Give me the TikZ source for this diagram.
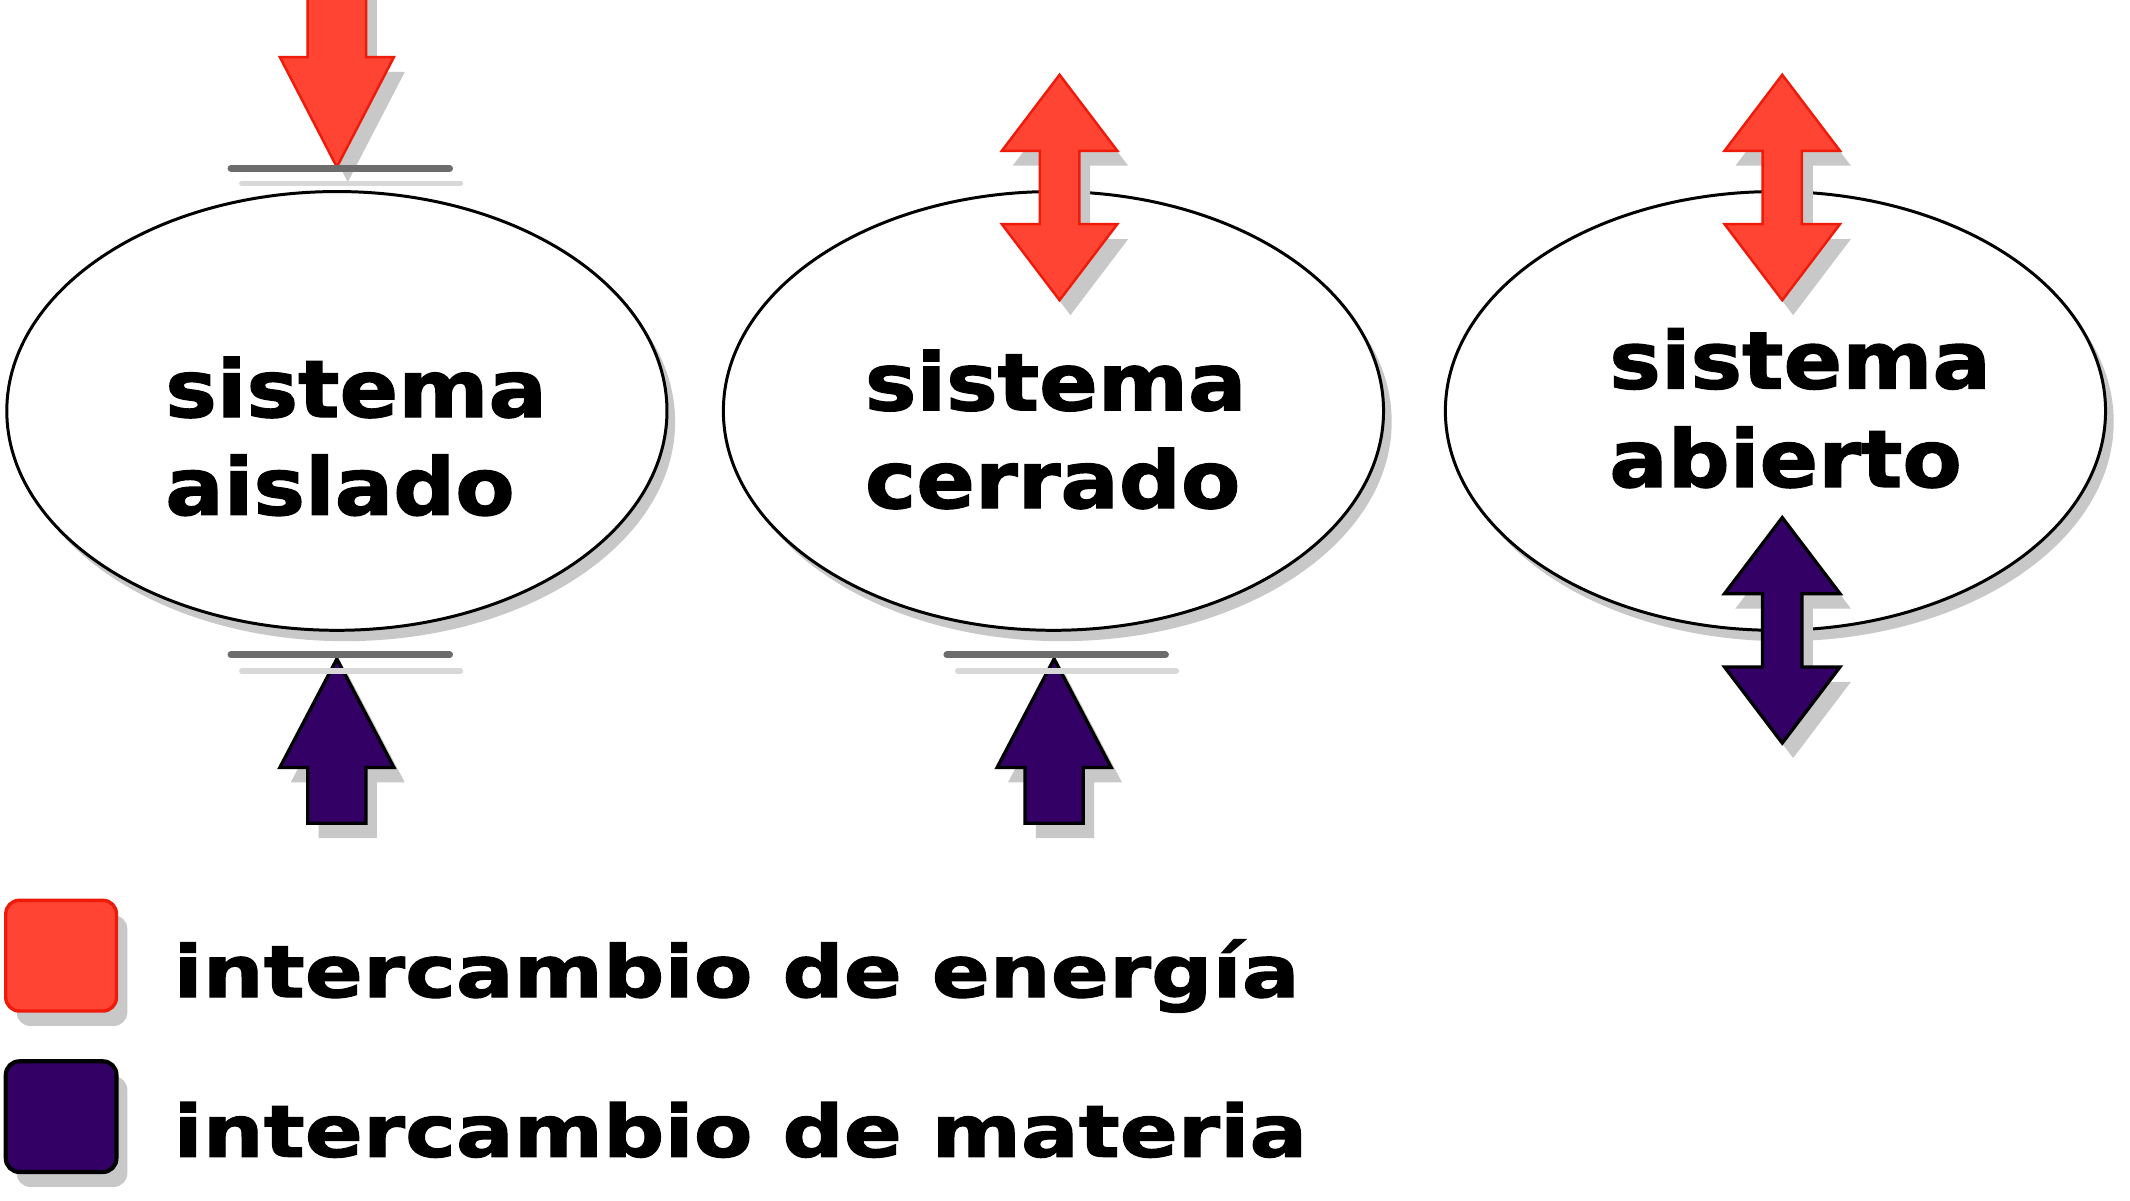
\documentclass[tikz,border=0pt]{standalone}
\usepackage{fontspec}
\usetikzlibrary{shapes.geometric,shadows}
\newfontfamily\sysfont{DejaVu Sans}[FakeStretch=1.09,FakeBold=1.6]
\newfontfamily\legfont{DejaVu Sans}[FakeStretch=1.19,FakeBold=1.6]
\definecolor{energy}{HTML}{FF4433}
\definecolor{energyline}{HTML}{EE1A0A}
\definecolor{matter}{HTML}{330066}
\definecolor{barrier}{HTML}{6C6C6C}
\definecolor{shadowgray}{HTML}{C8C8C8}
\definecolor{shadowlight}{HTML}{D8D8D8}
% arrow outlines, drawn from the tip
\newcommand{\downarrowpath}[1]{(#1) -- ++(-42,-81) -- ++(20.5,0) -- ++(0,-60) -- ++(43,0) -- ++(0,60) -- ++(20.5,0) -- cycle}
\newcommand{\uparrowpath}[1]{(#1) -- ++(-42,80) -- ++(20.5,0) -- ++(0,41) -- ++(43,0) -- ++(0,-41) -- ++(20.5,0) -- cycle}
\newcommand{\bothwayspath}[1]{(#1) -- ++(42.5,56) -- ++(-28,0) -- ++(0,54) -- ++(28,0) -- ++(-42.5,56) -- ++(-42.5,-56) -- ++(28,0) -- ++(0,-54) -- ++(-28,0) -- cycle}
\begin{document}
\begin{tikzpicture}[x=1pt,y=-1pt,
  dropsh/.style={drop shadow={shadow xshift=8pt,shadow yshift=-11pt,fill=shadowgray,draw=none,opacity=1}},
  sys/.style={ellipse,draw=black,line width=2.2pt,fill=white,minimum width=486pt,minimum height=323pt,inner sep=0pt,
    drop shadow={shadow xshift=6pt,shadow yshift=-8pt,fill=shadowgray,draw=none,opacity=1}},
  systext/.style={font=\sysfont\bfseries\fontsize{58.5}{72.5}\selectfont,inner sep=0pt,anchor=base west},
  legtext/.style={font=\legfont\bfseries\fontsize{53}{64}\selectfont,inner sep=0pt,anchor=base west},
  legbox/.style={rounded corners=10pt,minimum size=81.5pt,inner sep=0pt,dropsh},
  energyarrow/.style={fill=energy,draw=energyline,line width=1.8pt,dropsh},
  matterarrow/.style={fill=matter,draw=black,line width=2.4pt,dropsh},
  wall/.style={draw=barrier,line width=5pt,line cap=round},
  wallshadow/.style={draw=shadowlight,line width=4pt,line cap=round},
]
\useasboundingbox[fill=white] (0,0) rectangle (1568,883.4);

% systems
\node[sys] (e1) at (248,302.5) {};
\node[sys] (e2) at (775.5,302.5) {};
\node[sys] (e3) at (1307,302.5) {};

\node[systext] (t1a) at (121.5,307) {sistema};
\node[systext] (t1b) at (121.5,379) {aislado};
\node[systext] (t2a) at (636.5,302) {sistema};
\node[systext] (t2b) at (636.5,374) {cerrado};
\node[systext] (t3a) at (1184.5,286) {sistema};
\node[systext] (t3b) at (1184.5,358.5) {abierto};

% arrow tips
\coordinate (a1top) at (248,123);
\coordinate (a1bot) at (248,485);
\coordinate (a2top) at (780,55);
\coordinate (a2bot) at (776,485);
\coordinate (a3top) at (1312,55);
\coordinate (a3bot) at (1312,381);

\path[energyarrow] \downarrowpath{a1top};
\path[matterarrow] \uparrowpath{a1bot};
\path[energyarrow] \bothwayspath{a2top};
\path[matterarrow] \uparrowpath{a2bot};
\path[energyarrow] \bothwayspath{a3top};
\path[matterarrow] \bothwayspath{a3bot};

% walls
\coordinate (w1tl) at (170,124); \coordinate (w1tr) at (331,124);
\coordinate (w1bl) at (170,482); \coordinate (w1br) at (331,482);
\coordinate (w2bl) at (697,482); \coordinate (w2br) at (858,482);
\draw[wallshadow] ([shift={(8,11)}]w1tl) -- ([shift={(8,11)}]w1tr);
\draw[wallshadow] ([shift={(8,12)}]w1bl) -- ([shift={(8,12)}]w1br);
\draw[wallshadow] ([shift={(8,12)}]w2bl) -- ([shift={(8,12)}]w2br);
\draw[wall] (w1tl) -- (w1tr);
\draw[wall] (w1bl) -- (w1br);
\draw[wall] (w2bl) -- (w2br);

% legend
\node[legbox,fill=energy,draw=energyline,line width=2.5pt] (kE) at (45,703.5) {};
\node[legbox,fill=matter,draw=black,line width=3pt] (kM) at (45,822) {};
\node[legtext] (lE) at (127.5,734) {intercambio de energía};
\node[legtext] (lM) at (127.5,851.5) {intercambio de materia};
\end{tikzpicture}
\end{document}
